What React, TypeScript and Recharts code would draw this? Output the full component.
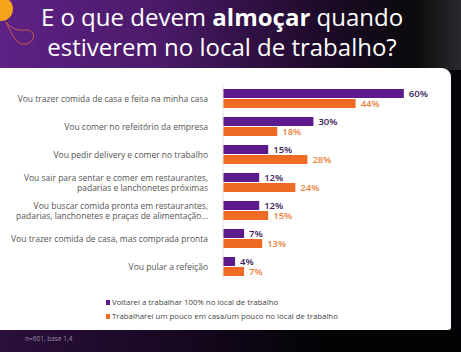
import React from "react";
import { Bar, BarChart, LabelList, XAxis, YAxis } from "recharts";

const categories = [
  "Vou trazer comida de casa e feita na minha casa",
  "Vou comer no refeitório da empresa",
  "Vou pedir delivery e comer no trabalho",
  "Vou sair para sentar e comer em restaurantes,\npadarias e lanchonetes próximas",
  "Vou buscar comida pronta em restaurantes,\npadarias, lanchonetes e praças de alimentação…",
  "Vou trazer comida de casa, mas comprada pronta",
  "Vou pular a refeição",
];
const fullOnSite = [60, 30, 15, 12, 12, 7, 4];
const hybrid = [44, 18, 28, 24, 15, 13, 7];
const seriesNames = [
  "Voltarei a trabalhar 100% no local de trabalho",
  "Trabalharei um pouco em casa/um pouco no local de trabalho",
];

const PURPLE = "#5c1a8c";
const ORANGE = "#ef6a22";
const FONT = "'Open Sans', sans-serif";

const data = categories.map((name, i) => ({
  name,
  full: fullOnSite[i],
  hybrid: hybrid[i],
}));

function CategoryTick({ x, y, payload }: any) {
  const lines = String(payload.value).split("\n");
  const lineH = 10.5;
  const start = y - ((lines.length - 1) * lineH) / 2;
  return (
    <text x={x - 7} y={start} textAnchor="end" fontSize={8.5} fill="#555" fontFamily={FONT} dominantBaseline="central">
      {lines.map((l, i) => (
        <tspan key={i} x={x - 7} y={start + i * lineH}>
          {l}
        </tspan>
      ))}
    </text>
  );
}

export default function App() {
  return (
    <div style={{ position: "absolute", left: 0, top: 0, width: 461, height: 352, background: "#050308", overflow: "hidden" }}>
      <div
        style={{
          position: "absolute",
          left: 0,
          top: 0,
          width: 461,
          height: 70,
          background: "linear-gradient(90deg, #5e2186 0%, #4a1a68 35%, #1d0a28 70%, #0a0a0c 90%, #2a2a2e 100%)",
        }}
      />
      <svg width={60} height={60} style={{ position: "absolute", left: 0, top: 0 }}>
        <circle cx={1} cy={9} r={12} fill="#f7a21b" />
        <path d="M6 22 C 14 32, 22 30, 26 30 C 36 30, 36 42, 26 44 C 16 46, 12 34, 6 22" fill="none" stroke="#e0703a" strokeWidth={0.8} />
      </svg>
      <div
        style={{
          position: "absolute",
          left: 0,
          top: 2,
          width: 444,
          textAlign: "center",
          color: "#fff",
          fontFamily: FONT,
          fontSize: 24,
          lineHeight: "30px",
        }}
      >
        E o que devem <b>almoçar</b> quando
        <br />
        estiverem no local de trabalho?
      </div>
      <div
        style={{
          position: "absolute",
          left: 0,
          top: 330,
          width: 461,
          height: 22,
          background: "linear-gradient(90deg, #2b0f3c 0%, #160820 40%, #030305 70%)",
        }}
      />
      <div style={{ position: "absolute", left: 25, top: 334, fontFamily: FONT, fontSize: 6.5, color: "#9a90a0" }}>
        n=601, base 1,4
      </div>
      <div
        style={{
          position: "absolute",
          left: 0,
          top: 68,
          width: 451,
          height: 262,
          background: "#fff",
          borderTopRightRadius: 9,
          borderBottomRightRadius: 3,
        }}
      />
      <div style={{ position: "absolute", left: 0, top: 78 }}>
        <BarChart
          layout="vertical"
          width={451}
          height={204}
          data={data}
          margin={{ top: 6, right: 17, bottom: 2, left: 0 }}
          barSize={9}
          barGap={1}
        >
          <XAxis type="number" domain={[0, 70]} hide />
          <YAxis
            type="category"
            dataKey="name"
            width={223}
            tick={<CategoryTick />}
            tickLine={false}
            axisLine={{ stroke: "#e6e6e6" }}
            interval={0}
          />
          <Bar dataKey="full" name={seriesNames[0]} fill={PURPLE} isAnimationActive={false}>
            <LabelList
              dataKey="full"
              position="right"
              offset={5}
              formatter={(v: any) => `${v}%`}
              style={{ fill: "#3a1a58", fontSize: 9.5, fontWeight: 600, fontFamily: FONT }}
            />
          </Bar>
          <Bar dataKey="hybrid" name={seriesNames[1]} fill={ORANGE} isAnimationActive={false}>
            <LabelList
              dataKey="hybrid"
              position="right"
              offset={5}
              formatter={(v: any) => `${v}%`}
              style={{ fill: "#e8823e", fontSize: 9.5, fontWeight: 600, fontFamily: FONT }}
            />
          </Bar>
        </BarChart>
      </div>
      <div
        style={{
          position: "absolute",
          left: 106,
          top: 295,
          fontFamily: FONT,
          fontSize: 7.8,
          color: "#444",
          lineHeight: "14px",
        }}
      >
        {seriesNames.map((n, i) => (
          <div key={n} style={{ display: "flex", alignItems: "center" }}>
            <span style={{ width: 4, height: 5, background: i === 0 ? PURPLE : ORANGE, marginRight: 2 }} />
            {n}
          </div>
        ))}
      </div>
    </div>
  );
}
